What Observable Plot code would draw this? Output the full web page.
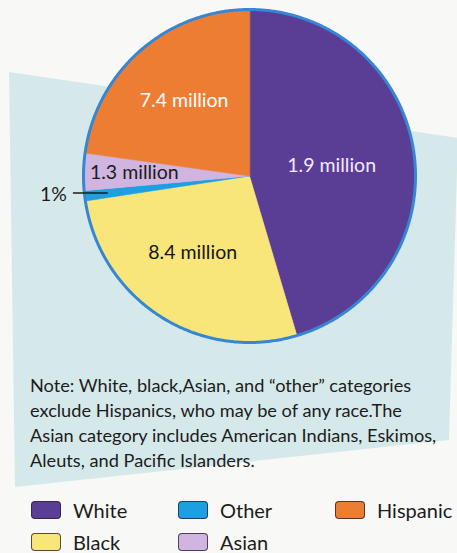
<!DOCTYPE html>
<html><head><meta charset="utf-8">
<script src="https://cdn.jsdelivr.net/npm/d3@7"></script>
<script src="https://cdn.jsdelivr.net/npm/@observablehq/plot@0.6"></script>
<style>
html,body{margin:0;padding:0;background:#f8f8f6;}
#fig{position:relative;width:457px;height:553px;overflow:hidden;font-family:Lato,"Open Sans",sans-serif;color:#1c1c1c;}
#panel{position:absolute;left:0;top:0;width:457px;height:553px;background:#d6e9ea;clip-path:polygon(9px 72px,458px 138px,449px 440px,15px 487px);}
#chart{position:absolute;left:0;top:0;}
#note{position:absolute;left:30px;top:373px;font-size:18.2px;line-height:25px;white-space:nowrap;}
#legend{position:absolute;left:31px;top:494px;display:grid;grid-template-columns:147px 157px auto;grid-auto-rows:32px;}
.item{display:flex;align-items:center;font-size:20px;}
.sw{width:28px;height:16px;border:1.5px solid rgba(45,35,45,0.8);border-radius:4px;margin-right:12px;}
</style></head>
<body>
<div id="fig">
  <div id="panel"></div>
  <div id="chart"></div>
  <div id="note"></div>
  <div id="legend"></div>
</div>
<script>
// ---- data ----
const categories = ["White", "Black", "Other", "Asian", "Hispanic"];
const shares = [45.4, 27.2, 1.0, 3.6, 22.8];               // percent of the pie (clockwise from 12 o'clock)
const sliceLabels = ["1.9 million", "8.4 million", "1%", "1.3 million", "7.4 million"];
const colors = ["#5a3e96", "#f9e67b", "#1d9fe1", "#cfb5df", "#ee7d34"];
const legendOrder = ["White", "Other", "Hispanic", "Black", "Asian"];
const noteLines = [
  "Note:  White, black,Asian, and \u201Cother\u201D categories",
  "exclude Hispanics, who may be of any race.The",
  "Asian category includes American Indians, Eskimos,",
  "Aleuts, and Pacific Islanders."
];

// ---- label styling (not data) ----
const labelStyle = {
  White:    {r: 0.50, dx: 0,  dy: 2, fill: "#f3ebfa"},
  Black:    {r: 0.56, dx: -7, dy: -2, fill: "#151515"},
  Asian:    {r: 0.70, dx: 1,  dy: 0, fill: "#1c1c1c"},
  Hispanic: {r: 0.60, dx: 0,  dy: 0, fill: "#ffffff"}
};

const rows = categories.map((c, i) => ({name: c, share: shares[i], label: sliceLabels[i], color: colors[i]}));
const arcs = d3.pie().sort(null).value(d => d.share)(rows);

const step = Math.PI / 360;
const slicePts = [];
const rimPts = [];
for (const a of arcs) {
  const n = Math.max(2, Math.ceil((a.endAngle - a.startAngle) / step));
  slicePts.push({name: a.data.name, x: 0, y: 0});
  for (let k = 0; k <= n; k++) {
    const t = a.startAngle + (a.endAngle - a.startAngle) * k / n;
    const p = {name: a.data.name, x: Math.sin(t), y: Math.cos(t)};
    slicePts.push(p);
    rimPts.push(p);
  }
}

const inLabels = arcs.filter(a => labelStyle[a.data.name]).map(a => {
  const m = (a.startAngle + a.endAngle) / 2, s = labelStyle[a.data.name];
  return {x: s.r * Math.sin(m), y: s.r * Math.cos(m), text: a.data.label, fill: s.fill, dx: s.dx, dy: s.dy};
});
const other = arcs.find(a => a.data.name === "Other");
const om = (other.startAngle + other.endAngle) / 2;
const leader = [{x1: 0.86 * Math.sin(om), y1: 0.86 * Math.cos(om), x2: 0.86 * Math.sin(om) - 0.21, y2: 0.86 * Math.cos(om), text: other.data.label}];

const chart = Plot.plot({
  width: 457, height: 360, margin: 0,
  x: {domain: [-1, 1], range: [83, 415], axis: null},
  y: {domain: [-1, 1], range: [342, 9], axis: null},
  color: {domain: categories, range: colors},
  style: {background: "transparent", fontFamily: "Lato, sans-serif"},
  marks: [
    Plot.line(slicePts, {x: "x", y: "y", z: "name", fill: "name", stroke: "name", strokeWidth: 0.6, curve: "linear-closed"}),
    Plot.line(rimPts, {x: "x", y: "y", stroke: "#3686d3", strokeWidth: 3}),
    ...inLabels.map(d => Plot.text([d], {x: "x", y: "y", text: "text", fill: d.fill, dx: d.dx, dy: d.dy, fontSize: 19.5, fontFamily: "Lato, sans-serif"})),
    Plot.link(leader, {x1: "x1", y1: "y1", x2: "x2", y2: "y2", stroke: "#1c1c1c", strokeWidth: 1.5}),
    Plot.text(leader, {x: "x2", y: "y2", text: "text", textAnchor: "end", dx: -6, dy: 2, fill: "#1c1c1c", fontSize: 19.5, fontFamily: "Lato, sans-serif"})
  ]
});
document.getElementById("chart").appendChild(chart);

document.getElementById("note").innerHTML = noteLines.map(l => `<div>${l}</div>`).join("");

const lg = document.getElementById("legend");
for (const name of legendOrder) {
  const i = categories.indexOf(name);
  const it = document.createElement("div");
  it.className = "item";
  it.innerHTML = `<span class="sw" style="background:${colors[i]}"></span><span>${name}</span>`;
  lg.appendChild(it);
}
</script>
</body></html>
